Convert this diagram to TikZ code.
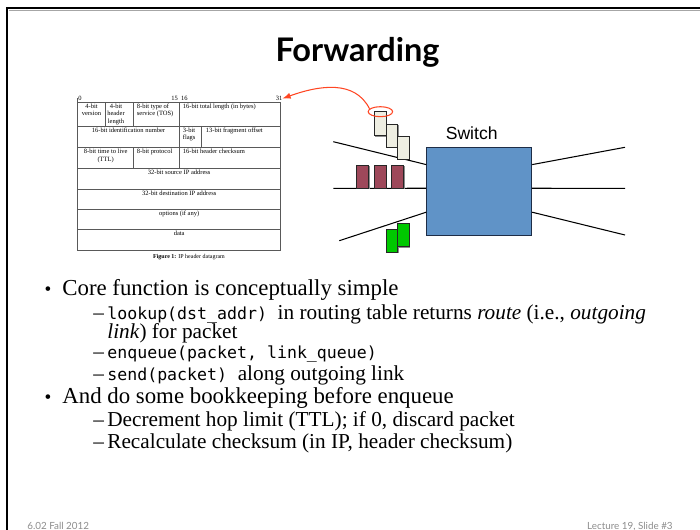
\documentclass[tikz,border=0pt]{standalone}
\usepackage{fontspec}
\setmainfont{Liberation Serif}
\setmonofont{DejaVu Sans Mono}[Scale=0.78]
\newfontfamily\titlefont{Lato}
\newfontfamily\labelfont{Liberation Sans}
\usepackage{tikz}
\usetikzlibrary{calc,arrows,shapes.geometric,shadows,positioning}

\definecolor{swblue}{RGB}{96,147,199}
\definecolor{swedge}{RGB}{30,45,70}
\definecolor{pktwhite}{RGB}{238,238,226}
\definecolor{pktred}{RGB}{158,72,90}
\definecolor{pktgreen}{RGB}{0,200,0}
\definecolor{markred}{RGB}{255,70,35}
\definecolor{footgray}{RGB}{140,140,140}

\tikzset{
  titletxt/.style={font=\titlefont\bfseries\fontsize{18.5}{20}\selectfont, inner sep=0pt, anchor=base},
  hdrline/.style={draw=black!65, line width=0.35pt},
  hdrtxt/.style={font=\fontsize{3.7}{4.25}\selectfont, inner sep=0pt, align=center},
  link/.style={line width=0.6pt},
  pkt/.style={draw=black!85, line width=0.5pt,
    drop shadow={shadow xshift=0.6pt, shadow yshift=-0.6pt, fill=black!45, opacity=1}},
  switchbox/.style={draw=swedge, fill=swblue, line width=0.6pt,
    minimum width=2.1cm, minimum height=1.76cm, inner sep=0pt},
  item/.style={font=\fontsize{13}{14}\selectfont, anchor=base west, inner sep=0pt},
  subitem/.style={font=\fontsize{12.1}{13}\selectfont, anchor=base west, inner sep=0pt},
  dotmark/.style={font=\fontsize{11}{12}\selectfont, anchor=base, inner sep=0pt},
  dashmark/.style={font=\fontsize{12.1}{13}\selectfont, anchor=base west, inner sep=0pt},
  footer/.style={font=\titlefont\fontsize{5.6}{7}\selectfont, text=footgray, inner sep=0pt, anchor=base west}
}

\begin{document}
\begin{tikzpicture}[x=0.02cm,y=-0.02cm]
\useasboundingbox (0,0) rectangle (700,530);

% slide frame
\draw[black!35, line width=0.8pt] (9,10.6) -- (701,10.6);
\draw[line width=1.7pt] (7,531) -- (7,8) -- (701,8);

\node[titletxt] (title) at (357.5,62) {Forwarding};

% IP header datagram
\draw[hdrline] (77.7,98) -- (77.7,102.3);
\draw[hdrline] (77.7,102.3) rectangle (280.7,250);
\draw[hdrline] (77.7,126) -- (280.7,126);
\draw[hdrline] (77.7,147.3) -- (280.7,147.3);
\draw[hdrline] (77.7,168.3) -- (280.7,168.3);
\draw[hdrline] (77.7,189.3) -- (280.7,189.3);
\draw[hdrline] (77.7,209.3) -- (280.7,209.3);
\draw[hdrline] (77.7,229.3) -- (280.7,229.3);
\draw[hdrline] (105.3,102.3) -- (105.3,126);
\draw[hdrline] (133.7,102.3) -- (133.7,126);
\draw[hdrline] (179.3,102.3) -- (179.3,168.3);
\draw[hdrline] (201.7,126) -- (201.7,147.3);
\draw[hdrline] (133.7,147.3) -- (133.7,168.3);

\node[hdrtxt] (b0) at (80,98.5) {0};
\node[hdrtxt] (b15) at (179.5,98.5) {15\ \ 16};
\node[hdrtxt] (b31) at (279,98.5) {31};

\node[hdrtxt, anchor=north] (version) at (91.5,103.5) {4-bit\\version};
\node[hdrtxt, anchor=north] (hlen) at (116,103.5) {4-bit\\header\\length};
\node[hdrtxt, anchor=north west, align=left] (tos) at (136.5,103.5) {8-bit type of\\service (TOS)};
\node[hdrtxt, anchor=north west] (totlen) at (182.5,103.5) {16-bit total length (in bytes)};
\node[hdrtxt, anchor=north] (ident) at (128.5,127.5) {16-bit identification number};
\node[hdrtxt, anchor=north west, align=left] (flags) at (182.5,127.5) {3-bit\\flags};
\node[hdrtxt, anchor=north west] (fragoff) at (205.5,127.5) {13-bit fragment offset};
\node[hdrtxt, anchor=north] (ttl) at (105.7,148.8) {8-bit time to live\\(TTL)};
\node[hdrtxt, anchor=north west] (proto) at (136.5,148.8) {8-bit protocol};
\node[hdrtxt, anchor=north west] (hcsum) at (182.5,148.8) {16-bit header checksum};
\node[hdrtxt, anchor=north] (srcip) at (179.2,169.8) {32-bit source IP address};
\node[hdrtxt, anchor=north] (dstip) at (179.2,190.8) {32-bit destination IP address};
\node[hdrtxt, anchor=north] (opts) at (179.2,210.8) {options (if any)};
\node[hdrtxt, anchor=north] (data) at (179.2,230.8) {data};
\node[hdrtxt, font=\fontsize{3.4}{4}\selectfont] (caption) at (189,257) {\textbf{Figure 1:} IP header datagram};

% switch and its links
\node[switchbox] (sw) at (479.2,191.3) {};
\node[font=\labelfont\fontsize{10}{12}\selectfont, inner sep=0pt] (swlabel) at (471.7,133.3) {Switch};

\coordinate (inA) at (333.3,141.7);
\coordinate (inB) at (333.3,188.3);
\coordinate (inC) at (339.3,240.7);
\coordinate (outA) at (625,147.3);
\coordinate (outB) at (625,188.3);
\coordinate (outC) at (625,235);
\draw[link] (inA) -- ($(sw.north west)!0.2!(sw.south west)$);
\draw[link] (inB) -- ($(sw.north west)!0.466!(sw.south west)$);
\draw[link] (inC) -- ($(sw.north west)!0.735!(sw.south west)$);
\draw[link] ($(sw.north east)!0.2!(sw.south east)$) -- (outA);
\draw[link] ($(sw.north east)!0.466!(sw.south east)$) -- (outB);
\draw[link] ($(sw.north east)!0.735!(sw.south east)$) -- (outC);

% packets
\filldraw[pkt, fill=pktwhite] (374,111.7) rectangle (386,135.7);
\filldraw[pkt, fill=pktwhite] (386,124.3) rectangle (397.7,147.3);
\filldraw[pkt, fill=pktwhite] (397.7,136) rectangle (409.3,159);
\filldraw[pkt, fill=pktred] (356.7,165) rectangle (368.7,188.3);
\filldraw[pkt, fill=pktred] (374,165) rectangle (386,188.3);
\filldraw[pkt, fill=pktred] (391.7,165) rectangle (403.7,188.3);
\filldraw[pkt, fill=pktgreen] (386,229.3) rectangle (397.7,252.3);
\filldraw[pkt, fill=pktgreen] (397.7,223.3) rectangle (409.3,246.7);

% header marked on first packet
\node[draw=markred, ellipse, line width=0.6pt, minimum width=0.49cm, minimum height=0.2cm, inner sep=0pt] (mark) at (380.4,111.7) {};
\draw[markred, line width=0.6pt, -latex] (mark.165) .. controls (355,80) and (320,85) .. (b31.east);

% bullets
\node[dotmark] (d1) at (48,296) {•};
\node[item] (l1) at (62,296) {Core function is conceptually simple};
\node[dashmark] (s1) at (93,319) {–};
\node[subitem] (l2) at (107,319) {\texttt{lookup(dst\_addr)}\ \ in routing table returns \emph{route} (i.e., \emph{outgoing}};
\node[subitem] (l2b) at (107,338) {\emph{link}) for packet};
\node[dashmark] (s2) at (93,358) {–};
\node[subitem] (l3) at (107,358) {\texttt{enqueue(packet, link\_queue)}};
\node[dashmark] (s3) at (93,380) {–};
\node[subitem] (l4) at (107,380) {\texttt{send(packet)}\ \ along outgoing link};
\node[dotmark] (d2) at (48,403) {•};
\node[item] (l5) at (62,403) {And do some bookkeeping before enqueue};
\node[dashmark] (s4) at (93,426) {–};
\node[subitem] (l6) at (107,426) {Decrement hop limit (TTL); if 0, discard packet};
\node[dashmark] (s5) at (93,448) {–};
\node[subitem] (l7) at (107,448) {Recalculate checksum (in IP, header checksum)};

% footer
\node[footer] (footl) at (27,529) {6.02 Fall 2012};
\node[footer, anchor=base east] (footr) at (673,529) {Lecture 19, Slide \#3};

\end{tikzpicture}
\end{document}
